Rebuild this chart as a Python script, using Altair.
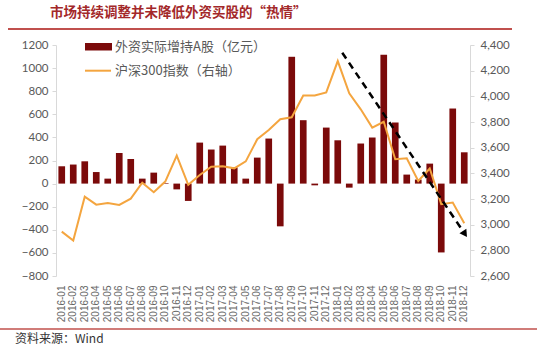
import altair as alt
import pandas as pd

months = [
    "2016-01", "2016-02", "2016-03", "2016-04", "2016-05", "2016-06",
    "2016-07", "2016-08", "2016-09", "2016-10", "2016-11", "2016-12",
    "2017-01", "2017-02", "2017-03", "2017-04", "2017-05", "2017-06",
    "2017-07", "2017-08", "2017-09", "2017-10", "2017-11", "2017-12",
    "2018-01", "2018-02", "2018-03", "2018-04", "2018-05", "2018-06",
    "2018-07", "2018-08", "2018-09", "2018-10", "2018-11", "2018-12",
]
flows = [
    150, 165, 193, 100, 43, 265, 213, 43, 95, 5, -50, -150,
    355, 295, 329, 140, 43, 225, 390, -370, 1098, 549, -15, 485,
    375, -35, 347, 399, 1115, 529, 78, 35, 173, -596, 650, 271,
]
csi300 = [
    2946, 2877, 3218, 3156, 3169, 3154, 3203, 3327, 3253, 3336, 3538, 3311,
    3387, 3452, 3456, 3439, 3493, 3666, 3737, 3822, 3837, 4006, 4006, 4031,
    4275, 4023, 3899, 3756, 3802, 3510, 3517, 3340, 3438, 3160, 3173, 3011,
]
arrow_months = ["2018-01", "2018-12"]
arrow_values = [4340, 2935]

title_text = "市场持续调整并未降低外资买股的“热情”"
legend_labels = ["外资实际增持A股（亿元）", "沪深300指数（右轴）"]
source_text = "资料来源：Wind"
left_ticks = [-800, -600, -400, -200, 0, 200, 400, 600, 800, 1000, 1200]
right_ticks = [2600, 2800, 3000, 3200, 3400, 3600, 3800, 4000, 4200, 4400]

BAR = "#7b0a0a"
LINE = "#f4a53f"
AXIS_LINE = "#d9d9d9"
LABEL = "#595959"
RED = "#c0504d"

df = pd.DataFrame({"month": months, "flow": flows, "csi": csi300})
arrow_df = pd.DataFrame({
    "m1": [arrow_months[0]], "m2": [arrow_months[1]],
    "v1": [arrow_values[0]], "v2": [arrow_values[1]],
})
head_df = pd.DataFrame({"month": [arrow_months[1]], "v": [arrow_values[1]]})
one = pd.DataFrame({"a": [0]})

xscale = alt.Scale(domain=months, paddingInner=0.42, paddingOuter=0.21)
left_scale = alt.Scale(domain=[-800, 1200], nice=False, zero=False)
right_scale = alt.Scale(domain=[2600, 4400], nice=False, zero=False)

x_axis = alt.Axis(
    title=None, labelAngle=-90, domain=False, ticks=False,
    labelFontSize=10, labelFont="Liberation Sans", labelColor="#666666",
    labelPadding=9, labelOverlap=False,
)
left_axis = alt.Axis(
    title=None, orient="left", values=left_ticks, grid=False,
    domainColor=AXIS_LINE, tickColor=AXIS_LINE, tickSize=4,
    labelPadding=4, labelFontSize=11.5, labelFont="Lato",
    labelColor=LABEL, labelExpr="format(datum.value, 'd')",
)
right_axis = alt.Axis(
    title=None, orient="right", values=right_ticks,
    grid=False, domainColor=AXIS_LINE, tickColor=AXIS_LINE,
    tickSize=4, labelPadding=6, labelFontSize=11.5, labelFont="Lato",
    labelColor=LABEL, labelExpr="format(datum.value, ',d')",
)

base = alt.Chart(df)

zero_rule = base.mark_rule(color=AXIS_LINE, strokeWidth=1).encode(
    x=alt.X("month:N", scale=xscale, axis=x_axis),
    y=alt.Y("zero:Q", scale=left_scale, axis=left_axis),
).transform_calculate(zero="0")

bars = base.mark_bar(color=BAR).encode(
    x=alt.X("month:N", scale=xscale, axis=x_axis),
    y=alt.Y("flow:Q", scale=left_scale, axis=left_axis),
)

line = base.mark_line(color=LINE, strokeWidth=2).encode(
    x=alt.X("month:N", scale=xscale, axis=x_axis),
    y=alt.Y("csi:Q", scale=right_scale, axis=right_axis),
)

arrow = alt.Chart(arrow_df).mark_rule(
    color="black", strokeWidth=2.5, strokeDash=[7, 5], xOffset=4.5
).encode(
    x=alt.X("m1:N", scale=xscale, axis=x_axis),
    x2="m2:N",
    y=alt.Y("v1:Q", scale=right_scale, axis=right_axis),
    y2="v2:Q",
)

head = alt.Chart(head_df).mark_point(
    shape="triangle", angle=146, size=70, filled=True, color="black", opacity=1
).encode(
    x=alt.X("month:N", scale=xscale, axis=x_axis),
    y=alt.Y("v:Q", scale=right_scale, axis=right_axis),
)

# decorations (fixed pixel positions relative to the plot area)
top_rule = alt.Chart(one).mark_rule(color=RED, strokeWidth=2).encode(
    x=alt.value(-48), x2=alt.value(456), y=alt.value(-16)
)
bottom_rule = alt.Chart(one).mark_rule(color=RED, strokeWidth=1.5).encode(
    x=alt.value(-56), x2=alt.value(481), y=alt.value(284)
)
leg_rect = alt.Chart(one).mark_rect(color=BAR).encode(
    x=alt.value(29), x2=alt.value(56), y=alt.value(-2), y2=alt.value(5.5)
)
leg_line = alt.Chart(one).mark_rule(color=LINE, strokeWidth=2).encode(
    x=alt.value(29), x2=alt.value(55), y=alt.value(25.7)
)
leg_text1 = alt.Chart(one).mark_text(
    align="left", baseline="middle", fontSize=13, font="Noto Sans CJK SC",
    color=LABEL, text=legend_labels[0],
).encode(x=alt.value(59), y=alt.value(1.7))
leg_text2 = alt.Chart(one).mark_text(
    align="left", baseline="middle", fontSize=13, font="Noto Sans CJK SC",
    color=LABEL, text=legend_labels[1],
).encode(x=alt.value(59), y=alt.value(25.5))
source = alt.Chart(one).mark_text(
    align="left", baseline="middle", fontSize=12, font="Noto Sans CJK SC",
    color="#333333", text=source_text,
).encode(x=alt.value(-41), y=alt.value(294))
title = alt.Chart(one).mark_text(
    align="left", baseline="middle", fontSize=13.5, font="Noto Sans CJK SC",
    fontWeight="bold", color="#a3282a", text=title_text,
).encode(x=alt.value(-6), y=alt.value(-32))

left_layer = alt.layer(
    zero_rule, bars, top_rule, bottom_rule, leg_rect, leg_line,
    leg_text1, leg_text2, source, title,
)
right_layer = alt.layer(line, arrow, head)

chart = alt.layer(left_layer, right_layer).resolve_scale(
    y="independent"
).properties(
    width=414,
    height=231,
    autosize=alt.AutoSizeParams(type="none"),
    padding={"left": 56, "top": 45, "right": 80, "bottom": 77},
).configure_view(stroke=None)

chart.save("out.html", embed_options={"renderer": "svg", "actions": False})
